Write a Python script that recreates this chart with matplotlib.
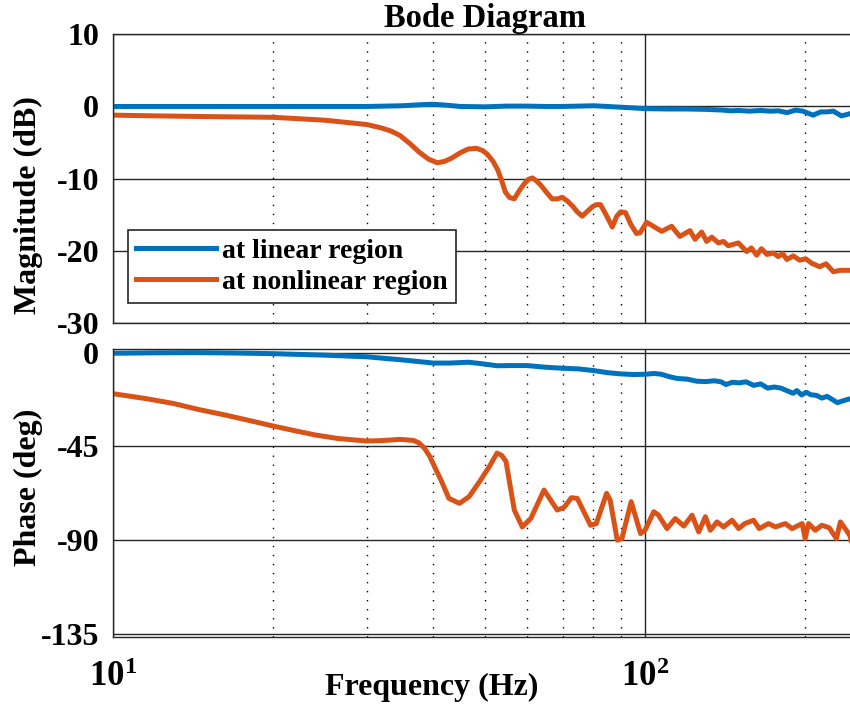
import matplotlib
matplotlib.use("Agg")
import matplotlib.pyplot as plt
import numpy as np

# ---------------- data ----------------
f_mag_lin = [10, 15, 20, 25, 30, 35, 38, 40, 42, 45, 50, 55, 60, 65, 70, 75, 80, 85,
             90, 95, 100, 110, 120, 130, 140, 145, 150, 157, 165, 172, 178, 185, 192,
             198, 207, 214, 220, 226, 234, 240, 245]
mag_lin = [0.0, 0.0, 0.0, 0.0, 0.0, 0.1, 0.25, 0.3, 0.2, 0.0, -0.05, 0.05, 0.05, 0.0,
           0.0, 0.05, 0.1, 0.0, -0.1, -0.2, -0.3, -0.35, -0.35, -0.4, -0.5, -0.6,
           -0.55, -0.65, -0.55, -0.65, -0.6, -0.85, -0.5, -0.65, -1.2, -0.75, -0.75,
           -0.65, -1.3, -1.1, -0.93]

f_mag_nl = [10, 12, 15, 20, 25, 30, 31.9, 33.3, 34.6, 36.1, 37.6, 39.2, 40.7, 42, 43.2,
            45, 46.5, 48.2, 49.5, 50.5, 51.7, 52.8, 53.8, 54.6, 55.6, 56.8, 58, 59.3,
            60.4, 61.4, 62.5, 63.7, 65.3, 66.9, 68.4, 69.9, 71.5, 73.1, 74.6, 76.2, 78,
            79.6, 81, 82.5, 84.5, 86.8, 88.5, 90, 91.9, 94, 96.4, 97.9, 100.7, 103.7,
            107.5, 112.2, 116.3, 121.5, 124.2, 127.8, 130.6, 133.5, 137.4, 140.5, 143.4,
            149.8, 155.3, 158.5, 162.2, 165.5, 169.5, 174.4, 178, 181.5, 184.8, 190,
            195.3, 200.5, 205.6, 212.9, 219, 226.0, 233, 242.5, 245]
mag_nl = [-1.2, -1.3, -1.4, -1.5, -1.9, -2.5, -2.96, -3.4, -4.0, -5.1, -6.3, -7.3, -7.8,
          -7.6, -7.2, -6.4, -5.9, -5.8, -6.1, -6.6, -7.5, -8.7, -10.3, -11.8, -12.6,
          -12.8, -11.7, -10.7, -10.1, -9.9, -10.3, -10.9, -11.9, -12.8, -12.8, -12.6,
          -13.1, -13.8, -14.6, -15.2, -14.5, -13.9, -13.6, -13.6, -15.0, -16.7, -15.2,
          -14.6, -14.7, -16.3, -17.6, -17.5, -16.05, -16.6, -17.3, -16.6, -18.0, -17.2,
          -18.4, -17.4, -18.7, -18.1, -18.9, -18.7, -19.3, -18.9, -20.1, -19.6, -20.6,
          -19.7, -20.5, -20.3, -20.8, -20.4, -21.2, -20.7, -21.3, -21.1, -21.7, -22.2,
          -21.8, -22.9, -22.7, -22.7, -22.7]

f_ph_lin = [10, 12, 14.3, 17, 20, 25, 30, 35, 40, 43, 46.6, 50, 52.7, 56, 60, 65, 70, 75,
            80, 85, 90, 95, 100, 104, 107, 111, 115, 120, 125, 130, 135, 139, 142, 146,
            150, 155, 160, 165, 170, 175, 180, 185, 190, 193, 197, 201, 205, 210, 215,
            220, 225, 230, 235, 240, 245]
ph_lin = [-0.3, -0.1, 0.0, -0.2, -0.5, -1.2, -2.0, -3.5, -5.0, -5.0, -4.6, -5.5, -6.3,
          -6.2, -6.2, -7.0, -7.5, -7.8, -8.6, -9.6, -10.2, -10.5, -10.4, -10.0, -10.3,
          -11.5, -12.4, -12.7, -13.7, -13.9, -13.5, -14.0, -15.3, -14.2, -14.5, -14.0,
          -15.7, -15.0, -17.0, -16.5, -17.0, -18.3, -19.5, -18.2, -20.3, -19.0, -20.2,
          -20.5, -21.8, -21.0, -22.5, -24.0, -23.2, -22.5, -22.0]

f_ph_nl = [10, 11.5, 13, 14.5, 16.3, 18, 20, 22, 24, 26.5, 30, 32, 34.6, 36.7, 37.6,
           38.5, 39.4, 40.2, 41.5, 42.8, 44.8, 46.7, 49.1, 51.0, 52.7, 53.8, 54.8, 55.8,
           56.8, 58.8, 61.0, 64.6, 68.4, 70.5, 72.7, 74.6, 79, 81, 84.7, 86, 88.7, 90.5,
           94.2, 98.1, 100, 103.9, 106, 110, 114, 118.3, 122.6, 126.2, 129.9, 132.7,
           136.6, 140.5, 145.8, 150, 154, 160, 164, 170.7, 176, 183.5, 189, 197.5, 200,
           203, 209, 215, 222, 229, 233, 239, 243, 245]
ph_nl = [-19.7, -22.0, -24.4, -27.3, -30.0, -32.5, -35.2, -37.5, -39.5, -41.2, -42.4,
         -42.2, -41.6, -42.1, -43.3, -45.8, -49.8, -54.6, -62.0, -69.9, -72.3, -69.1,
         -61.1, -54.6, -48.2, -49.3, -52.2, -64.0, -75.5, -83.6, -79.6, -65.9, -75.5,
         -74.2, -69.6, -69.9, -82.8, -82.0, -67.5, -70.7, -90.0, -89.2, -71.5, -86.8,
         -85.2, -76.3, -77.9, -84.4, -79.6, -83.2, -78.0, -86.0, -78.7, -85.2, -81.2,
         -83.6, -80.4, -84.4, -82.0, -80.4, -84.4, -82.0, -83.6, -82.0, -84.4, -82.0,
         -89.2, -82.0, -85.2, -82.8, -84.0, -89.2, -81.2, -85.2, -88.0, -92.4]

series_labels = ["at linear region", "at nonlinear region"]
mag_ticks = [-30, -20, -10, 0, 10]
ph_ticks = [-135, -90, -45, 0]
x_ticks = [10, 100]
x_ticklabels = [r"$\mathbf{10^{1}}$", r"$\mathbf{10^{2}}$"]

# ---------------- style ----------------
plt.rcParams["font.family"] = ["Liberation Serif", "DejaVu Serif"]
plt.rcParams["font.weight"] = "bold"
plt.rcParams["mathtext.fontset"] = "custom"
plt.rcParams["mathtext.rm"] = "Liberation Serif:bold"
plt.rcParams["mathtext.bf"] = "Liberation Serif:bold"
plt.rcParams["mathtext.it"] = "Liberation Serif:bold"

BLUE = "#0072BD"
ORANGE = "#D95319"
GRID = "#262626"
W, H = 850, 706
LW = 3.6

fig = plt.figure(figsize=(W / 100, H / 100), dpi=100)

def px_axes(x0, x1, y_top, y_bot):
    return fig.add_axes([x0 / W, 1 - y_bot / H, (x1 - x0) / W, (y_bot - y_top) / H])

ax1 = px_axes(113, 852, 34.3, 323)
ax2 = px_axes(113, 852, 349.5, 637)

for ax in (ax1, ax2):
    ax.set_xscale("log")
    ax.set_xlim(10, 245)
    ax.xaxis.set_minor_locator(matplotlib.ticker.LogLocator(base=10, subs=np.arange(2, 10)))
    ax.xaxis.set_minor_formatter(matplotlib.ticker.NullFormatter())
    ax.grid(True, which="major", color=GRID, lw=1.0, ls="-")
    ax.grid(True, which="minor", axis="x", color="black", lw=1.0, ls=(0, (1, 5.5)))
    ax.set_axisbelow(True)
    for s in ax.spines.values():
        s.set_color(GRID)
        s.set_linewidth(1.0)
    ax.tick_params(which="both", length=0, labelsize=23, pad=10)
    ax.set_xticks(x_ticks)

ax1.plot(f_mag_lin, mag_lin, color=BLUE, lw=LW, label=series_labels[0], solid_joinstyle="round")
ax1.plot(f_mag_nl, mag_nl, color=ORANGE, lw=LW, label=series_labels[1], solid_joinstyle="round")
ax1.set_ylim(-30, 10)
ax1.set_yticks(mag_ticks)
ax1.set_yticklabels([str(t) for t in mag_ticks])
ax1.set_xticklabels([])

ax2.plot(f_ph_lin, ph_lin, color=BLUE, lw=LW, solid_joinstyle="round")
ax2.plot(f_ph_nl, ph_nl, color=ORANGE, lw=LW, solid_joinstyle="round")
ax2.set_ylim(-136.4, 1.5)
ax2.set_yticks(ph_ticks)
ax2.set_yticklabels([str(t) for t in ph_ticks])
ax2.set_xticklabels(x_ticklabels)
ax2.tick_params(axis="x", pad=17, labelsize=25)

leg = ax1.legend(loc="lower left", bbox_to_anchor=(0.0203, 0.069), borderaxespad=0,
                 fontsize=20, frameon=True, fancybox=False, edgecolor=GRID,
                 handlelength=2.85, handletextpad=0.25, borderpad=0.3, labelspacing=0.2)
leg.get_frame().set_linewidth(1.2)
leg.get_frame().set_facecolor("white")
leg.get_frame().set_alpha(1)

fig.text(485 / W, 1 - 27 / H, "Bode Diagram", ha="center", va="baseline", fontsize=23.5,
         fontweight="bold")
fig.text(432 / W, 1 - 695 / H, "Frequency (Hz)", ha="center", va="baseline", fontsize=23,
         fontweight="bold")
fig.text(28 / W, 1 - 205 / H, "Magnitude (dB)", ha="center", va="center", rotation=90,
         fontsize=23, fontweight="bold")
fig.text(28 / W, 1 - 487 / H, "Phase (deg)", ha="center", va="center", rotation=90,
         fontsize=23, fontweight="bold")

fig.savefig("out.png", dpi=100)
